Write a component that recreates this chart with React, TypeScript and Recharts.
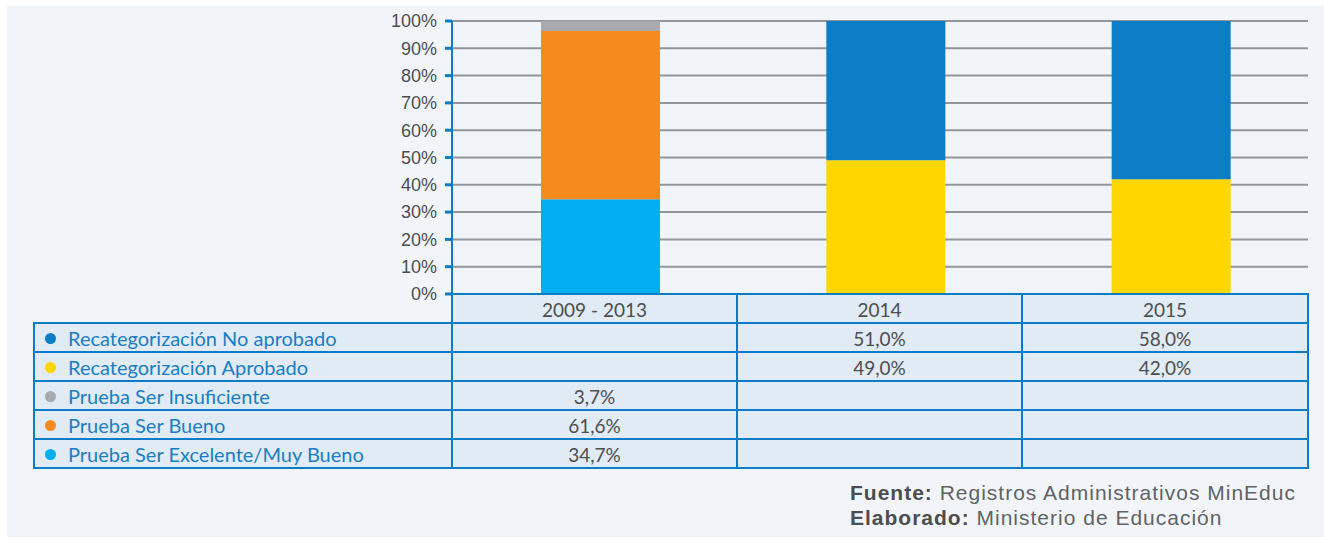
import React from 'react';
import { BarChart, Bar, XAxis, YAxis, CartesianGrid } from 'recharts';

const categories = ['2009 - 2013', '2014', '2015'];
const noAprobado: (number | null)[] = [null, 51.0, 58.0];
const aprobado: (number | null)[] = [null, 49.0, 42.0];
const insuficiente: (number | null)[] = [3.7, null, null];
const bueno: (number | null)[] = [61.6, null, null];
const excelente: (number | null)[] = [34.7, null, null];
const yTicks = [0, 10, 20, 30, 40, 50, 60, 70, 80, 90, 100];

const seriesInfo = [
  { key: 'noAprobado', name: 'Recategorización No aprobado', color: '#0a7dc6', values: noAprobado },
  { key: 'aprobado', name: 'Recategorización Aprobado', color: '#ffd600', values: aprobado },
  { key: 'insuficiente', name: 'Prueba Ser Insuficiente', color: '#a7a9ac', values: insuficiente },
  { key: 'bueno', name: 'Prueba Ser Bueno', color: '#f58b1f', values: bueno },
  { key: 'excelente', name: 'Prueba Ser Excelente/Muy Bueno', color: '#00adef', values: excelente },
];
// stacking order bottom -> top
const stackOrder = ['excelente', 'bueno', 'insuficiente', 'aprobado', 'noAprobado'];

const data = categories.map((cat, i) => {
  const row: Record<string, any> = { cat };
  seriesInfo.forEach((s) => {
    row[s.key] = s.values[i];
  });
  return row;
});

const fmt = (v: number | null) => (v == null ? '' : v.toFixed(1).replace('.', ',') + '%');

const BORDER = '#0a7dc6';
const CELL_BG = '#e1ebf5';
const colX = [34, 452, 737, 1022, 1308];
const rowY = [294, 323, 352, 381, 410, 439, 468];

function Cell({ c, r, children, align = 'center', size = 19 }: any) {
  return (
    <div
      style={{
        position: 'absolute',
        left: colX[c] - 1,
        top: rowY[r] - 1,
        width: colX[c + 1] - colX[c] + 2,
        height: rowY[r + 1] - rowY[r] + 2,
        border: `2px solid ${BORDER}`,
        boxSizing: 'border-box',
        background: CELL_BG,
        display: 'flex',
        alignItems: 'center',
        justifyContent: align === 'left' ? 'flex-start' : 'center',
        fontFamily: 'Lato, "Open Sans", sans-serif',
        fontSize: size,
        color: '#4d4d4f',
        whiteSpace: 'nowrap',
        paddingTop: 1,
      }}
    >
      {children}
    </div>
  );
}

export default function App() {
  return (
    <div style={{ position: 'absolute', left: 0, top: 0, width: 1324, height: 543, background: '#ffffff', overflow: 'hidden' }}>
      <div style={{ position: 'absolute', left: 7, top: 6, width: 1317, height: 531, background: '#f1f5fa' }} />
      <div style={{ position: 'absolute', left: 0, top: 0 }}>
        <BarChart width={1324} height={310} data={data} margin={{ top: 21, right: 16, bottom: 16, left: 0 }} barSize={119}>
          <CartesianGrid vertical={false} stroke="#939598" strokeWidth={2} />
          <XAxis dataKey="cat" hide padding={{ left: 6, right: -6 }} />
          <YAxis
            width={452}
            domain={[0, 100]}
            ticks={yTicks}
            interval={0}
            tickFormatter={(v: number) => `${v}%`}
            axisLine={{ stroke: BORDER, strokeWidth: 2 }}
            tickLine={{ stroke: BORDER, strokeWidth: 3 }}
            tickSize={7}
            tickMargin={8}
            tick={{ fill: '#4d4d4f', fontSize: 18, fontFamily: '"Liberation Sans", Arial, sans-serif' }}
          />
          {stackOrder.map((k) => {
            const s = seriesInfo.find((x) => x.key === k)!;
            return <Bar key={k} dataKey={k} name={s.name} stackId="a" fill={s.color} isAnimationActive={false} />;
          })}
        </BarChart>
      </div>
      {categories.map((cat, i) => (
        <Cell key={'h' + i} c={i + 1} r={0}>
          {cat}
        </Cell>
      ))}
      {seriesInfo.map((s, r) => (
        <React.Fragment key={s.key}>
          <Cell c={0} r={r + 1} align="left" size={20}>
            <span
              style={{
                display: 'inline-block',
                width: 11,
                height: 11,
                borderRadius: '50%',
                background: s.color,
                marginLeft: 10,
                marginRight: 12,
              }}
            />
            <span style={{ color: '#1a7dc4' }}>{s.name}</span>
          </Cell>
          {s.values.map((v, i) => (
            <Cell key={i} c={i + 1} r={r + 1}>
              {fmt(v)}
            </Cell>
          ))}
        </React.Fragment>
      ))}
      <div
        style={{
          position: 'absolute',
          left: 850,
          top: 480,
          fontFamily: '"Liberation Sans", Arial, sans-serif',
          fontSize: 21,
          lineHeight: '25px',
          letterSpacing: 1,
          color: '#616264',
          whiteSpace: 'nowrap',
        }}
      >
        <div>
          <b style={{ color: '#4d4d4f' }}>Fuente:</b> Registros Administrativos MinEduc
        </div>
        <div>
          <b style={{ color: '#4d4d4f' }}>Elaborado:</b> Ministerio de Educación
        </div>
      </div>
    </div>
  );
}
